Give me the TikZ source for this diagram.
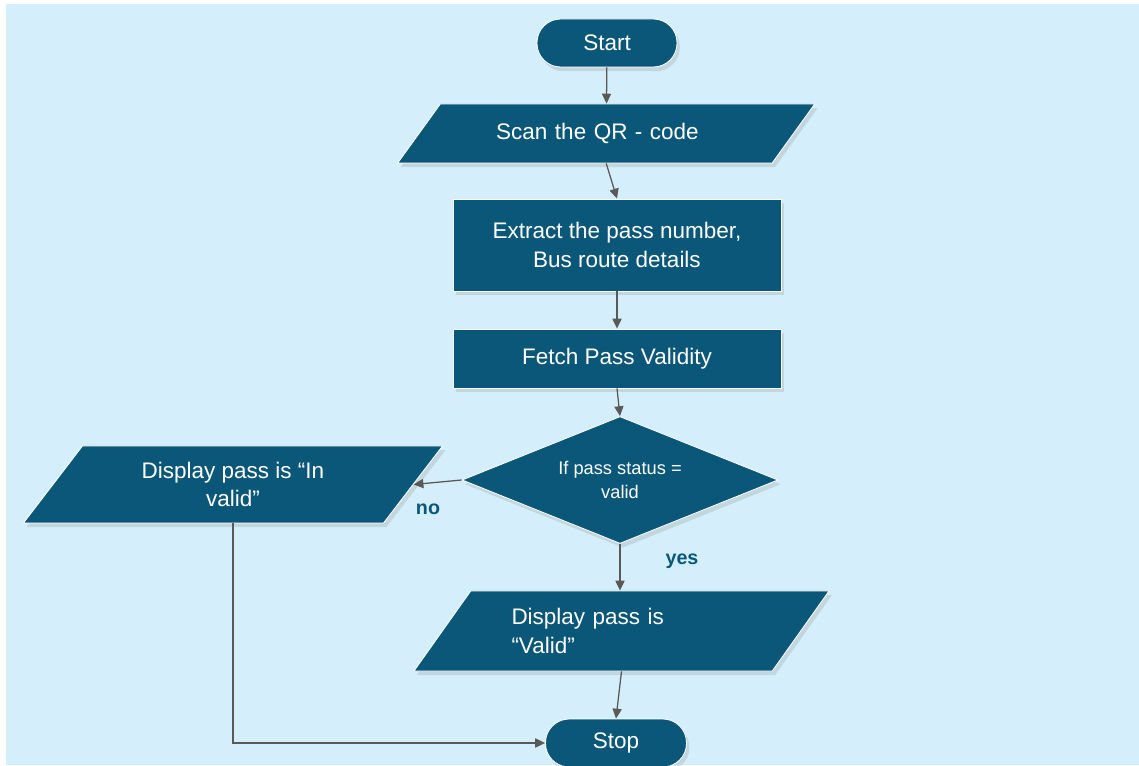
\documentclass[tikz,border=0pt]{standalone}
\usepackage{fontspec}
\setmainfont{Liberation Sans}
\usepackage{tikz}
\usetikzlibrary{shapes.geometric, arrows.meta, positioning, shadows}
\definecolor{boxcolor}{RGB}{11,87,122}
\definecolor{bgcolor}{RGB}{212,239,251}
\definecolor{linecolor}{RGB}{89,89,89}

\begin{document}
\begin{tikzpicture}[
    box/.style={draw=white, line width=0.6pt, fill=boxcolor, text=white, font=\fontsize{16}{20}\selectfont, drop shadow={opacity=0.22, shadow xshift=2pt, shadow yshift=-3pt}},
    terminal/.style={box, rounded corners=0.59cm, minimum width=3.5cm, minimum height=1.2cm},
    process/.style={box, minimum width=8.2cm, align=center},
    io/.style={box, trapezium, trapezium stretches body},
    decision/.style={box, diamond, aspect=2.5, inner sep=1pt, minimum width=7.9cm, minimum height=3.175cm, font=\fontsize{13}{17}\selectfont, align=center},
    answer/.style={text=boxcolor, font=\fontsize{14}{16}\selectfont\bfseries},
    flow/.style={draw=linecolor, line width=0.9pt, -{Triangle[length=7pt, width=6.5pt]}}
]
    \useasboundingbox (0,0) rectangle (28.475,19.125);
    \fill[bgcolor] (0.15,0) rectangle (28.475,19.025);

    % Main column
    \node[terminal] (start) at (15.175,18.05) {Start};
    \node[io, trapezium left angle=35.1, trapezium right angle=144.9, minimum width=10.425cm, minimum height=1.475cm, text width=5.5cm, align=left] (scan) at (15.156,15.7875) {Scan the QR - code};
    \node[process, minimum height=2.3cm] (extract) at (15.425,13.0) {Extract the pass number,\\Bus route details};
    \node[process, minimum height=1.475cm] (fetch) at (15.425,10.1625) {Fetch Pass Validity};
    \node[decision] (check) at (15.5,7.125) {If pass status =\\valid};
    \node[io, trapezium left angle=43.6, trapezium right angle=136.4, minimum width=10.375cm, minimum height=2cm, text width=5.5cm, align=left] (valid) at (15.5375,3.35) {Display pass is\\“Valid”};
    \node[terminal, minimum width=3.525cm] (stop) at (15.4,0.55) {Stop};

    % Invalid branch
    \node[io, trapezium left angle=42.5, trapezium right angle=137.5, minimum width=10.475cm, minimum height=1.925cm, align=center] (invalid) at (5.825,7.0125) {Display pass is “In\\valid”};

    \node[answer] (no) at (10.7,6.4) {no};
    \node[answer] (yes) at (17.05,5.1) {yes};

    % Connectors
    \draw[flow] (start) -- (scan);
    \draw[flow] (scan.center |- scan.bottom side) -- (extract.north);
    \draw[flow] (extract) -- (fetch);
    \draw[flow] (fetch.south) -- (check.north);
    \draw[flow] (check.west) -- (invalid.right side);
    \draw[flow] (check.south) -- (check.south |- valid.top side);
    \draw[flow] (valid.center |- valid.bottom side) -- (stop.north);
    \draw[flow] (invalid.center |- invalid.bottom side) |- (stop.west);
\end{tikzpicture}
\end{document}
